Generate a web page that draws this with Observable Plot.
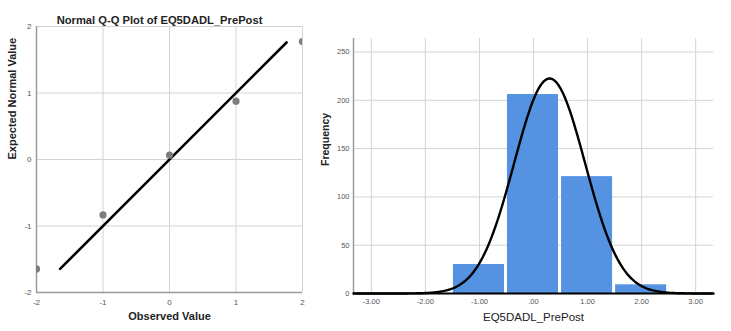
<!DOCTYPE html>
<html><head><meta charset="utf-8">
<script src="https://cdn.jsdelivr.net/npm/d3@7"></script>
<script src="https://cdn.jsdelivr.net/npm/@observablehq/plot@0.6"></script>
<style>
body{margin:0;background:#fff;}
#wrap{position:relative;width:731px;height:331px;background:#fff;overflow:hidden;}
#wrap svg{position:absolute;top:0;}
</style></head>
<body><div id="wrap"></div>
<script>
// ---- Q-Q plot data ----
const qqTitle = "Normal Q-Q Plot of EQ5DADL_PrePost";
const observed = [-2, -1, 0, 1, 2];
const expected = [-1.645, -0.833, 0.065, 0.877, 1.775];
const qqLineX = [-1.645, 1.76];
const qqLineY = [-1.645, 1.76];
const qqTicks = [-2, -1, 0, 1, 2];
const qqTickLabels = ["-2", "-1", "0", "1", "2"];

// ---- Histogram data ----
const binStart = [-1.5, -0.5, 0.5, 1.5];
const binEnd = [-0.5, 0.5, 1.5, 2.5];
const freq = [30, 206, 121, 9];
const histXTicks = [-3, -2, -1, 0, 1, 2, 3];
const histXTickLabels = ["-3.00", "-2.00", "-1.00", ".00", "1.00", "2.00", "3.00"];
const histYTicks = [0, 50, 100, 150, 200, 250];
const fitMean = 0.298, fitSD = 0.656, fitN = 366, binWidth = 1;

const font = "'Liberation Sans', Arial, sans-serif";
const wrap = document.getElementById("wrap");

// Left: Q-Q plot
const qqPts = observed.map((x, i) => ({x, y: expected[i]}));
const qqLine = qqLineX.map((x, i) => ({x, y: qqLineY[i]}));
const qqFmt = d => qqTickLabels[qqTicks.indexOf(d)];
const left = Plot.plot({
  width: 320, height: 331,
  marginLeft: 36, marginRight: 18, marginTop: 26, marginBottom: 39,
  x: {domain: [-2, 2]}, y: {domain: [-2, 2]},
  style: {fontFamily: font, background: "transparent", overflow: "visible"},
  marks: [
    Plot.ruleX(qqTicks.slice(1), {stroke: "#d4d4d4", strokeWidth: 1}),
    Plot.ruleY(qqTicks.slice(1), {stroke: "#d4d4d4", strokeWidth: 1}),
    Plot.ruleX([-2], {stroke: "#9a9a9a", strokeWidth: 1.5}),
    Plot.ruleY([-2], {stroke: "#9a9a9a", strokeWidth: 1.5}),
    Plot.axisX(qqTicks, {tickSize: 0, tickPadding: 7, fontSize: 8, fill: "#555", label: null, tickFormat: qqFmt}),
    Plot.axisY(qqTicks, {tickSize: 0, tickPadding: 5, fontSize: 8, fill: "#555", label: null, tickFormat: qqFmt}),
    Plot.line(qqLine, {x: "x", y: "y", stroke: "#000", strokeWidth: 2.6}),
    Plot.dot(qqPts, {x: "x", y: "y", r: 3.6, fill: "#7d7d7d", stroke: "none", clip: "frame"}),
    Plot.text([qqTitle], {frameAnchor: "top", dy: -10, fontSize: 11.2, fontWeight: "bold", fill: "#222", dx: -10}),
    Plot.text(["Observed Value"], {frameAnchor: "bottom", dy: 27, fontSize: 11, fontWeight: "bold", fill: "#222"}),
    Plot.text(["Expected Normal Value"], {frameAnchor: "left", rotate: -90, dx: -24, fontSize: 11, fontWeight: "bold", fill: "#222"})
  ]
});
left.style.left = "0px";
wrap.appendChild(left);

// Right: histogram
const bins = binStart.map((x1, i) => ({x1, x2: binEnd[i], y: freq[i]}));
const curve = d3.range(-3.33, 3.3301, 0.02).map(x => ({
  x, y: fitN * binWidth * Math.exp(-0.5 * ((x - fitMean) / fitSD) ** 2) / (fitSD * Math.sqrt(2 * Math.PI))
}));
const right = Plot.plot({
  width: 411, height: 331,
  marginLeft: 33, marginRight: 18, marginTop: 38, marginBottom: 38,
  x: {domain: [-3.33, 3.33]}, y: {domain: [0, 264]},
  style: {fontFamily: font, background: "transparent", overflow: "visible"},
  marks: [
    Plot.ruleX(histXTicks, {stroke: "#d4d4d4", strokeWidth: 1}),
    Plot.ruleY(histYTicks.slice(1), {stroke: "#d4d4d4", strokeWidth: 1}),
    Plot.ruleX([-3.33], {stroke: "#9a9a9a", strokeWidth: 1.5}),
    Plot.rectY(bins, {x1: "x1", x2: "x2", y: "y", fill: "#5593e2", insetLeft: 1, insetRight: 2}),
    Plot.line(curve, {x: "x", y: "y", stroke: "#000", strokeWidth: 2.4}),
    Plot.ruleY([0], {stroke: "#000", strokeWidth: 2}),
    Plot.axisX(histXTicks, {tickSize: 0, tickPadding: 5, fontSize: 7.5, fill: "#555", label: null,
      tickFormat: d => histXTickLabels[histXTicks.indexOf(d)]}),
    Plot.axisY(histYTicks, {tickSize: 0, tickPadding: 4, fontSize: 7.5, fill: "#555", label: null}),
    Plot.text(["EQ5DADL_PrePost"], {frameAnchor: "bottom", dy: 27, fontSize: 11.5, fill: "#222"}),
    Plot.text(["Frequency"], {frameAnchor: "left", rotate: -90, dx: -28, fontSize: 10.5, fontWeight: "bold", fill: "#222"})
  ]
});
right.style.left = "320px";
wrap.appendChild(right);
</script></body></html>
